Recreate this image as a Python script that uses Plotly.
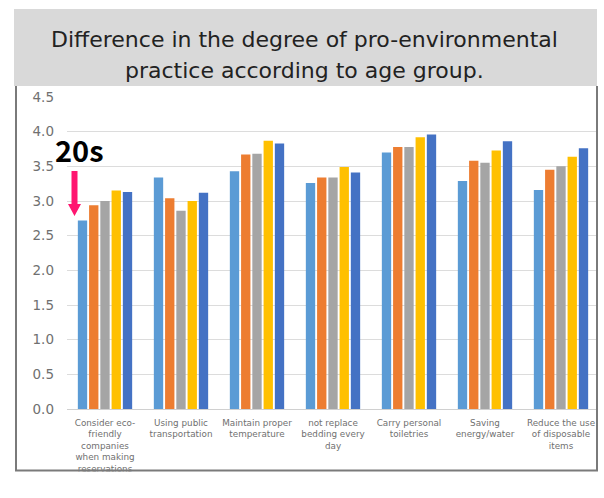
import plotly.graph_objects as go

# Practice items (x categories) and mean scores per age group
categories = [
    "Consider eco-<br>friendly<br>companies<br>when making<br>reservations",
    "Using public<br>transportation",
    "Maintain proper<br>temperature",
    "not replace<br>bedding every<br>day",
    "Carry personal<br>toiletries",
    "Saving<br>energy/water",
    "Reduce the use<br>of disposable<br>items",
]
age_groups = ["20s", "30s", "40s", "50s", "60s+"]
scores_20s = [2.72, 3.34, 3.43, 3.26, 3.70, 3.29, 3.16]
scores_30s = [2.94, 3.04, 3.67, 3.34, 3.78, 3.58, 3.45]
scores_40s = [3.00, 2.86, 3.68, 3.34, 3.78, 3.55, 3.50]
scores_50s = [3.15, 3.00, 3.87, 3.49, 3.92, 3.73, 3.64]
scores_60s = [3.13, 3.12, 3.83, 3.41, 3.96, 3.86, 3.76]
y_ticks = [0.0, 0.5, 1.0, 1.5, 2.0, 2.5, 3.0, 3.5, 4.0, 4.5]

series = [scores_20s, scores_30s, scores_40s, scores_50s, scores_60s]
colors = ["#5B9BD5", "#ED7D31", "#A5A5A5", "#FFC000", "#4472C4"]

W, H = 604, 498
L, R, T, B = 67, 5, 97, 89
plot_w = W - L - R
plot_h = H - T - B


def px(xp):
    return (xp - L) / plot_w


def py(yp):
    return (H - B - yp) / plot_h


fig = go.Figure()
for name, vals, col in zip(age_groups, series, colors):
    fig.add_trace(go.Bar(x=categories, y=vals, name=name,
                         marker=dict(color=col, line=dict(width=0))))

fig.update_layout(
    width=W, height=H,
    margin=dict(l=L, r=R, t=T, b=B, pad=0),
    paper_bgcolor="white", plot_bgcolor="white",
    showlegend=False,
    barmode="group", bargap=0.26, bargroupgap=0.17,
    xaxis=dict(showgrid=False, showline=False, ticks="", ticklabelstandoff=7,
               tickfont=dict(family="DejaVu Sans", size=8.8, color="#707070")),
    yaxis=dict(range=[0, 4.5], tickvals=y_ticks,
               ticktext=[f"{v:.1f}" for v in y_ticks],
               showgrid=True, gridcolor="#dcdcdc", gridwidth=1,
               zeroline=True, zerolinecolor="#d0d0d0", zerolinewidth=1,
               showline=False, ticks="", ticklabelstandoff=12,
               tickfont=dict(family="DejaVu Sans", size=13.5, color="#707070")),
)

shapes = [
    # title banner
    dict(type="rect", xref="paper", yref="paper", layer="below",
         x0=px(14), x1=px(597), y0=py(86), y1=py(9),
         fillcolor="#d9d9d9", line=dict(width=0)),
    # masks outside the framed panel
    dict(type="rect", xref="paper", yref="paper", layer="above",
         x0=px(598), x1=px(612), y0=py(510), y1=py(86),
         fillcolor="white", line=dict(width=0)),
    dict(type="rect", xref="paper", yref="paper", layer="above",
         x0=px(0), x1=px(612), y0=py(510), y1=py(471.5),
         fillcolor="white", line=dict(width=0)),
    # panel frame
    dict(type="path", xref="paper", yref="paper", layer="above",
         path=f"M {px(16)},{py(86)} L {px(16)},{py(470.5)} L {px(597)},{py(470.5)} L {px(597)},{py(86)}",
         line=dict(color="#7a7a7a", width=2)),
    # pointer arrow towards the 20s bar
    dict(type="path", xref="paper", yref="paper", layer="above",
         path=(f"M {px(71.5)},{py(171)} L {px(77.5)},{py(171)} L {px(77.5)},{py(204)} "
               f"L {px(81)},{py(204)} L {px(74.5)},{py(216)} L {px(68)},{py(204)} "
               f"L {px(71.5)},{py(204)} Z"),
         fillcolor="#ff1670", line=dict(width=0)),
]
fig.update_layout(shapes=shapes)

title_font = dict(family="DejaVu Sans", size=22, color="#222222")
fig.add_annotation(xref="paper", yref="paper", x=px(304), y=py(40),
                   text="Difference in the degree of pro-environmental",
                   showarrow=False, font=title_font, xanchor="center", yanchor="middle")
fig.add_annotation(xref="paper", yref="paper", x=px(304), y=py(70),
                   text="practice according to age group.",
                   showarrow=False, font=title_font, xanchor="center", yanchor="middle")
fig.add_annotation(xref="paper", yref="paper", x=px(79), y=py(149),
                   text="<b>20s</b>", showarrow=False,
                   font=dict(family="Noto Sans CJK KR", size=29, color="black"),
                   xanchor="center", yanchor="middle")

fig.write_html("out.html")
